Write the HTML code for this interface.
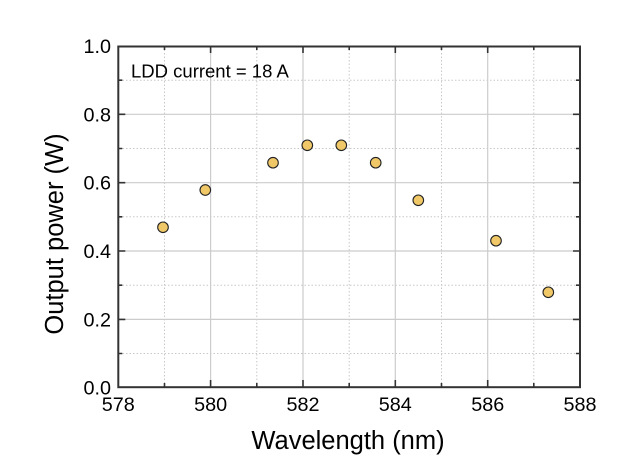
<!DOCTYPE html>
<html><head><meta charset="utf-8"><style>
html,body{margin:0;padding:0;background:#fff;}
svg{display:block;}
text{font-family:"Liberation Sans",Arial,sans-serif;fill:#000;}
</style></head><body>
<svg width="626" height="465" viewBox="0 0 626 465" xmlns="http://www.w3.org/2000/svg">
<rect width="626" height="465" fill="#fff"/>
<g stroke="#c8c8c8" stroke-width="1" stroke-dasharray="1.5,2" fill="none">
<line x1="164.5" y1="46" x2="164.5" y2="387"/>
<line x1="256.8" y1="46" x2="256.8" y2="387"/>
<line x1="349.2" y1="46" x2="349.2" y2="387"/>
<line x1="441.5" y1="46" x2="441.5" y2="387"/>
<line x1="533.8" y1="46" x2="533.8" y2="387"/>
<line x1="119" y1="353.5" x2="579" y2="353.5"/>
<line x1="119" y1="285.2" x2="579" y2="285.2"/>
<line x1="119" y1="216.8" x2="579" y2="216.8"/>
<line x1="119" y1="148.5" x2="579" y2="148.5"/>
<line x1="119" y1="80.2" x2="579" y2="80.2"/>
</g>
<g stroke="#cccccc" stroke-width="1.2" fill="none">
<line x1="210.6" y1="46" x2="210.6" y2="387"/>
<line x1="303" y1="46" x2="303" y2="387"/>
<line x1="395.3" y1="46" x2="395.3" y2="387"/>
<line x1="487.7" y1="46" x2="487.7" y2="387"/>
<line x1="119" y1="319.4" x2="579" y2="319.4"/>
<line x1="119" y1="251" x2="579" y2="251"/>
<line x1="119" y1="182.7" x2="579" y2="182.7"/>
<line x1="119" y1="114.3" x2="579" y2="114.3"/>
</g>
<g stroke="#333" stroke-width="1.6" fill="none">
<path d="M210.6 387v-7M303 387v-7M395.3 387v-7M487.7 387v-7"/>
<path d="M164.5 387v-4M256.8 387v-4M349.2 387v-4M441.5 387v-4M533.8 387v-4"/>
<path d="M210.6 46v7M303 46v7M395.3 46v7M487.7 46v7"/>
<path d="M164.5 46v4M256.8 46v4M349.2 46v4M441.5 46v4M533.8 46v4"/>
<path d="M118.3 319.4h7M118.3 251h7M118.3 182.7h7M118.3 114.3h7"/>
<path d="M118.3 353.5h4M118.3 285.2h4M118.3 216.8h4M118.3 148.5h4M118.3 80.2h4"/>
<path d="M580 319.4h-7M580 251h-7M580 182.7h-7M580 114.3h-7"/>
<path d="M580 353.5h-4M580 285.2h-4M580 216.8h-4M580 148.5h-4M580 80.2h-4"/>
</g>
<rect x="118.3" y="46.5" width="461.7" height="340.7" fill="none" stroke="#333" stroke-width="2"/>
<g fill="#f0c868" stroke="#222" stroke-width="1.1">
<circle cx="163" cy="227.3" r="5.3"/>
<circle cx="205.3" cy="190" r="5.3"/>
<circle cx="273" cy="162.7" r="5.3"/>
<circle cx="307.3" cy="145.3" r="5.3"/>
<circle cx="341.3" cy="145.3" r="5.3"/>
<circle cx="375.7" cy="162.7" r="5.3"/>
<circle cx="418.3" cy="200.3" r="5.3"/>
<circle cx="496" cy="240.7" r="5.3"/>
<circle cx="548.3" cy="292.3" r="5.3"/>
</g>
<g font-size="19.8" text-anchor="middle">
<text x="118.3" y="411">578</text>
<text x="210.6" y="411">580</text>
<text x="303" y="411">582</text>
<text x="395.3" y="411">584</text>
<text x="487.7" y="411">586</text>
<text x="580" y="411">588</text>
</g>
<g font-size="19.8" text-anchor="end">
<text x="111" y="394.7">0.0</text>
<text x="111" y="326.4">0.2</text>
<text x="111" y="258">0.4</text>
<text x="111" y="189.7">0.6</text>
<text x="111" y="121.3">0.8</text>
<text x="111" y="53">1.0</text>
</g>
<text x="131" y="77.7" font-size="18.5">LDD current = 18 A</text>
<text x="348" y="449" font-size="25.5" text-anchor="middle">Wavelength (nm)</text>
<text transform="translate(63,234) rotate(-90)" font-size="25.5" text-anchor="middle">Output power (W)</text>
</svg>
</body></html>
